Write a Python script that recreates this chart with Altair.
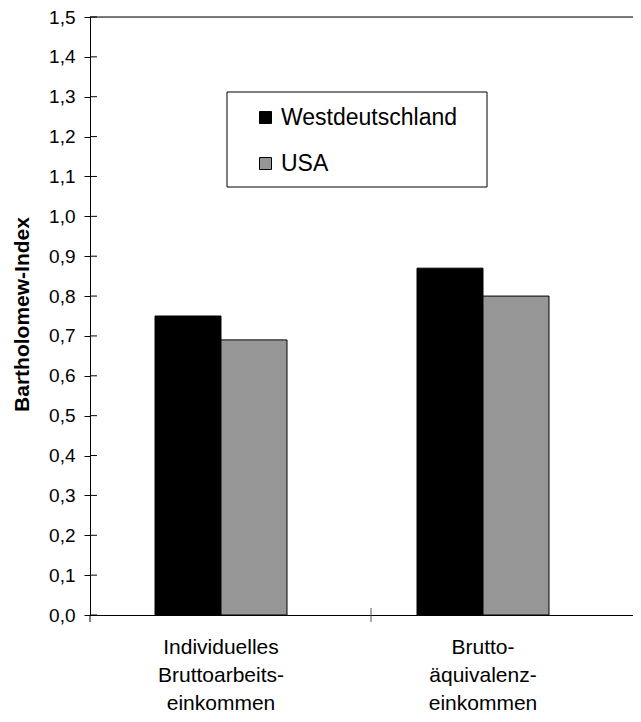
import altair as alt
import pandas as pd

# ---- data ----
categories = ["Individuelles|Bruttoarbeits-|einkommen", "Brutto-|äquivalenz-|einkommen"]
series = ["Westdeutschland", "USA"]
west_values = [0.75, 0.87]
usa_values = [0.69, 0.80]
y_tick_values = [0.0, 0.1, 0.2, 0.3, 0.4, 0.5, 0.6, 0.7, 0.8, 0.9, 1.0, 1.1, 1.2, 1.3, 1.4, 1.5]
series_colors = ["#000000", "#969696"]

rows = []
for i, c in enumerate(categories):
    rows.append({"Kategorie": c, "Serie": series[0], "Wert": west_values[i]})
    rows.append({"Kategorie": c, "Serie": series[1], "Wert": usa_values[i]})
df = pd.DataFrame(rows)
ticks_df = pd.DataFrame({"Wert": y_tick_values})
one_df = pd.DataFrame({"a": [0]})

W = 543
H = 598
FONT = "Liberation Sans"

y_scale = alt.Scale(domain=[0, 1.5], nice=False, zero=True)
y_axis = alt.Axis(
    values=y_tick_values,
    labelExpr="replace(format(datum.value, '.1f'), '.', ',')",
    title="Bartholomew-Index",
    titleFont=FONT,
    titleFontSize=21,
    titleFontWeight="bold",
    titleColor="black",
    titleAngle=270,
    titleX=-68,
    titleY=297,
    titleAlign="center",
    titleBaseline="middle",
    labelFont=FONT,
    labelFontSize=19,
    labelColor="black",
    labelPadding=9,
    tickSize=6,
    tickColor="black",
    domainColor="black",
    grid=False,
)

bars = alt.Chart(df).mark_bar(stroke="black", strokeWidth=1, opacity=1).encode(
    x=alt.X(
        "Kategorie:N",
        sort=categories,
        scale=alt.Scale(paddingInner=0, paddingOuter=0.03626, align=0),
        axis=alt.Axis(
            title=None,
            labelExpr="split(datum.label, '|')",
            ticks=False,
            labelAngle=0,
            labelFontSize=21,
            labelLineHeight=28,
            labelPadding=21,
            labelColor="black",
            labelFont=FONT,
            domainColor="black",
            domainWidth=1,
            grid=False,
        ),
    ),
    xOffset=alt.XOffset("Serie:N", sort=series, scale=alt.Scale(paddingInner=0, paddingOuter=0.985)),
    y=alt.Y("Wert:Q", scale=y_scale, axis=y_axis),
    color=alt.Color(
        "Serie:N",
        sort=series,
        scale=alt.Scale(domain=series, range=series_colors),
        legend=alt.Legend(
            title=None,
            orient="none",
            legendX=164,
            legendY=89,
            symbolType="square",
            symbolSize=144,
            symbolStrokeColor="black",
            symbolStrokeWidth=1,
            symbolOpacity=1,
            labelFont=FONT,
            labelFontSize=23,
            labelColor="black",
            labelOffset=4,
            labelLimit=0,
            rowPadding=22,
            padding=0,
        ),
    ),
)

legend_box = alt.Chart(one_df).mark_rect(fill="white", stroke="black", strokeWidth=1).encode(
    x=alt.value(137), x2=alt.value(397), y=alt.value(75), y2=alt.value(170)
)

inner_ticks = alt.Chart(ticks_df).mark_rule(color="black", strokeWidth=1).encode(
    y=alt.Y("Wert:Q", scale=y_scale, axis=y_axis), x=alt.value(0), x2=alt.value(7)
)

top_line = alt.Chart(one_df).mark_rule(color="black", strokeWidth=1).encode(
    x=alt.value(0), x2=alt.value(W), y=alt.value(0)
)

mid_tick = alt.Chart(one_df).mark_rule(color="#555555", strokeWidth=1).encode(
    x=alt.value(281), y=alt.value(H - 7), y2=alt.value(H + 7)
)

axis_ext = alt.Chart(one_df).mark_rule(color="black", strokeWidth=1).encode(
    x=alt.value(0), y=alt.value(H), y2=alt.value(H + 7)
)

chart = alt.layer(bars, legend_box, inner_ticks, top_line, mid_tick, axis_ext).properties(
    width=W,
    height=H,
    autosize=alt.AutoSizeParams(type="none"),
    padding={"left": 82, "top": 9, "right": 0, "bottom": 99},
    background="white",
).configure_view(stroke=None).configure(font=FONT)

chart.save("out.html", embed_options={"renderer": "svg", "actions": False})
